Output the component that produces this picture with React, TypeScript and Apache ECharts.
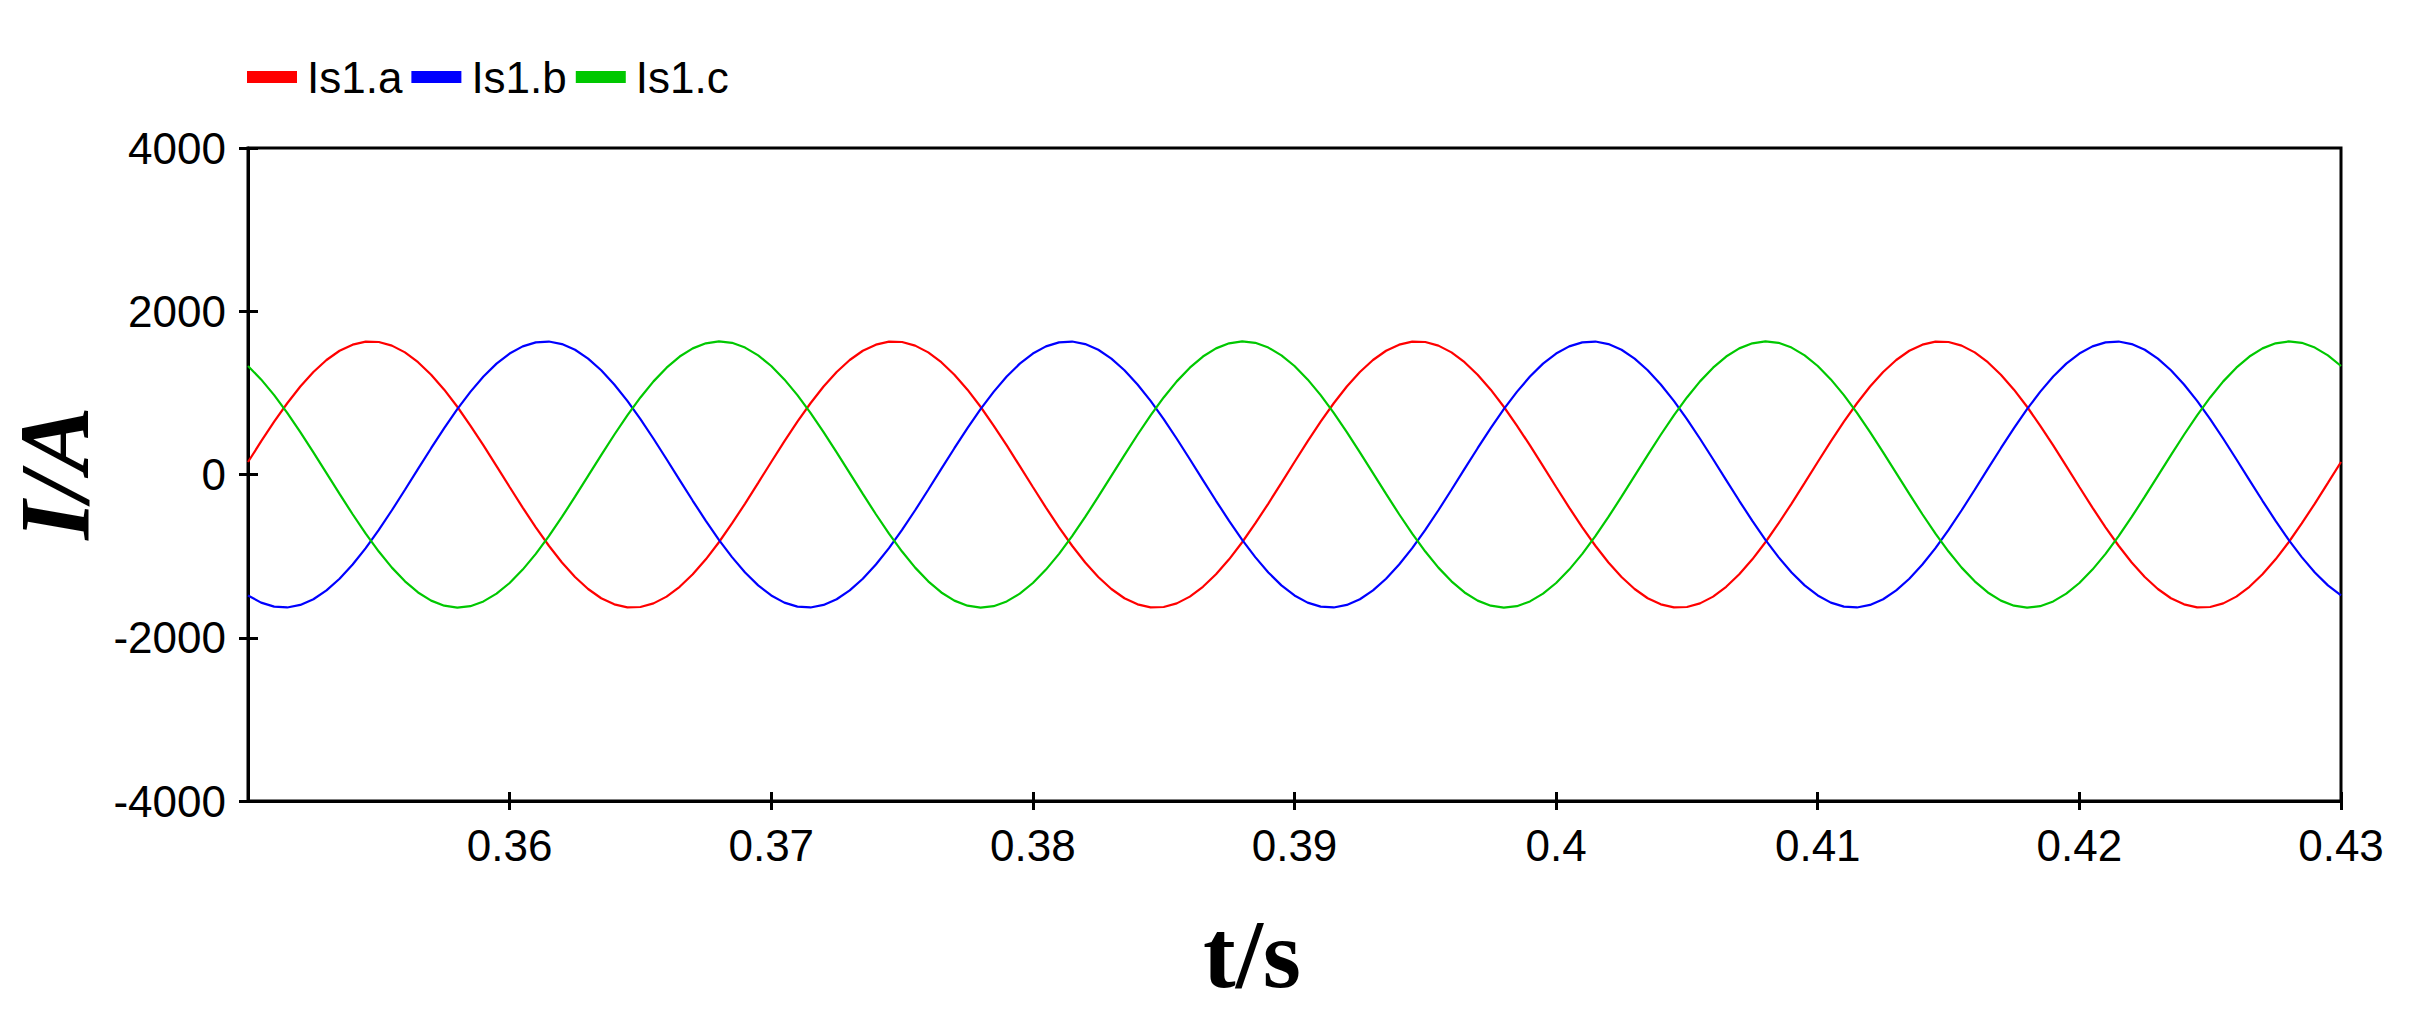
import React, { useEffect, useRef } from "react";
import * as echarts from "echarts";

const times = [
  0.35, 0.3505, 0.351, 0.3515, 0.352, 0.3525, 0.353, 0.3535, 0.354, 0.3545,
  0.355, 0.3555, 0.356, 0.3565, 0.357, 0.3575, 0.358, 0.3585, 0.359, 0.3595,
  0.36, 0.3605, 0.361, 0.3615, 0.362, 0.3625, 0.363, 0.3635, 0.364, 0.3645,
  0.365, 0.3655, 0.366, 0.3665, 0.367, 0.3675, 0.368, 0.3685, 0.369, 0.3695,
  0.37, 0.3705, 0.371, 0.3715, 0.372, 0.3725, 0.373, 0.3735, 0.374, 0.3745,
  0.375, 0.3755, 0.376, 0.3765, 0.377, 0.3775, 0.378, 0.3785, 0.379, 0.3795,
  0.38, 0.3805, 0.381, 0.3815, 0.382, 0.3825, 0.383, 0.3835, 0.384, 0.3845,
  0.385, 0.3855, 0.386, 0.3865, 0.387, 0.3875, 0.388, 0.3885, 0.389, 0.3895,
  0.39, 0.3905, 0.391, 0.3915, 0.392, 0.3925, 0.393, 0.3935, 0.394, 0.3945,
  0.395, 0.3955, 0.396, 0.3965, 0.397, 0.3975, 0.398, 0.3985, 0.399, 0.3995,
  0.4, 0.4005, 0.401, 0.4015, 0.402, 0.4025, 0.403, 0.4035, 0.404, 0.4045,
  0.405, 0.4055, 0.406, 0.4065, 0.407, 0.4075, 0.408, 0.4085, 0.409, 0.4095,
  0.41, 0.4105, 0.411, 0.4115, 0.412, 0.4125, 0.413, 0.4135, 0.414, 0.4145,
  0.415, 0.4155, 0.416, 0.4165, 0.417, 0.4175, 0.418, 0.4185, 0.419, 0.4195,
  0.42, 0.4205, 0.421, 0.4215, 0.422, 0.4225, 0.423, 0.4235, 0.424, 0.4245,
  0.425, 0.4255, 0.426, 0.4265, 0.427, 0.4275, 0.428, 0.4285, 0.429, 0.4295,
  0.43,
];

const ia = [
  153, 405, 647, 873, 1078, 1256, 1403, 1516, 1591, 1627,
  1623, 1579, 1496, 1376, 1223, 1039, 830, 600, 356, 102,
  -153, -405, -647, -873, -1078, -1256, -1403, -1516, -1591, -1627,
  -1623, -1579, -1496, -1376, -1223, -1039, -830, -600, -356, -102,
  153, 405, 647, 873, 1078, 1256, 1403, 1516, 1591, 1627,
  1623, 1579, 1496, 1376, 1223, 1039, 830, 600, 356, 102,
  -153, -405, -647, -873, -1078, -1256, -1403, -1516, -1591, -1627,
  -1623, -1579, -1496, -1376, -1223, -1039, -830, -600, -356, -102,
  153, 405, 647, 873, 1078, 1256, 1403, 1516, 1591, 1627,
  1623, 1579, 1496, 1376, 1223, 1039, 830, 600, 356, 102,
  -153, -405, -647, -873, -1078, -1256, -1403, -1516, -1591, -1627,
  -1623, -1579, -1496, -1376, -1223, -1039, -830, -600, -356, -102,
  153, 405, 647, 873, 1078, 1256, 1403, 1516, 1591, 1627,
  1623, 1579, 1496, 1376, 1223, 1039, 830, 600, 356, 102,
  -153, -405, -647, -873, -1078, -1256, -1403, -1516, -1591, -1627,
  -1623, -1579, -1496, -1376, -1223, -1039, -830, -600, -356, -102,
  153,
];

const ib = [
  -1482, -1570, -1619, -1629, -1598, -1528, -1420, -1277, -1103, -902,
  -679, -438, -187, 68, 322, 568, 800, 1012, 1200, 1358,
  1482, 1570, 1619, 1629, 1598, 1528, 1420, 1277, 1103, 902,
  679, 438, 187, -68, -322, -568, -800, -1012, -1200, -1358,
  -1482, -1570, -1619, -1629, -1598, -1528, -1420, -1277, -1103, -902,
  -679, -438, -187, 68, 322, 568, 800, 1012, 1200, 1358,
  1482, 1570, 1619, 1629, 1598, 1528, 1420, 1277, 1103, 902,
  679, 438, 187, -68, -322, -568, -800, -1012, -1200, -1358,
  -1482, -1570, -1619, -1629, -1598, -1528, -1420, -1277, -1103, -902,
  -679, -438, -187, 68, 322, 568, 800, 1012, 1200, 1358,
  1482, 1570, 1619, 1629, 1598, 1528, 1420, 1277, 1103, 902,
  679, 438, 187, -68, -322, -568, -800, -1012, -1200, -1358,
  -1482, -1570, -1619, -1629, -1598, -1528, -1420, -1277, -1103, -902,
  -679, -438, -187, 68, 322, 568, 800, 1012, 1200, 1358,
  1482, 1570, 1619, 1629, 1598, 1528, 1420, 1277, 1103, 902,
  679, 438, 187, -68, -322, -568, -800, -1012, -1200, -1358,
  -1482,
];

const ic = [
  1329, 1165, 972, 755, 520, 272, 17, -238, -487, -725,
  -944, -1141, -1309, -1445, -1545, -1607, -1630, -1613, -1555, -1460,
  -1329, -1165, -972, -755, -520, -272, -17, 238, 487, 725,
  944, 1141, 1309, 1445, 1545, 1607, 1630, 1613, 1555, 1460,
  1329, 1165, 972, 755, 520, 272, 17, -238, -487, -725,
  -944, -1141, -1309, -1445, -1545, -1607, -1630, -1613, -1555, -1460,
  -1329, -1165, -972, -755, -520, -272, -17, 238, 487, 725,
  944, 1141, 1309, 1445, 1545, 1607, 1630, 1613, 1555, 1460,
  1329, 1165, 972, 755, 520, 272, 17, -238, -487, -725,
  -944, -1141, -1309, -1445, -1545, -1607, -1630, -1613, -1555, -1460,
  -1329, -1165, -972, -755, -520, -272, -17, 238, 487, 725,
  944, 1141, 1309, 1445, 1545, 1607, 1630, 1613, 1555, 1460,
  1329, 1165, 972, 755, 520, 272, 17, -238, -487, -725,
  -944, -1141, -1309, -1445, -1545, -1607, -1630, -1613, -1555, -1460,
  -1329, -1165, -972, -755, -520, -272, -17, 238, 487, 725,
  944, 1141, 1309, 1445, 1545, 1607, 1630, 1613, 1555, 1460,
  1329,
];

const seriesNames = ["Is1.a", "Is1.b", "Is1.c"];
const seriesColors = ["#ff0000", "#0000ff", "#00c800"];
const xTicks = [0.36, 0.37, 0.38, 0.39, 0.4, 0.41, 0.42, 0.43];
const yTicks = [-4000, -2000, 0, 2000, 4000];
const xName = "t/s";
const yName = "I/A";

export default function App() {
  const ref = useRef<HTMLDivElement>(null);

  useEffect(() => {
    if (!ref.current) return;
    const chart = echarts.init(ref.current, null, { renderer: "svg" });
    const labelFont = "'Liberation Sans', Arial, sans-serif";
    const values = [ia, ib, ic];

    const xBase = {
      type: "value",
      min: 0.35,
      max: 0.43,
      interval: 0.01,
      position: "bottom",
      splitLine: { show: false },
    };
    const yBase = {
      type: "value",
      min: -4000,
      max: 4000,
      interval: 2000,
      position: "left",
      splitLine: { show: false },
    };
    const tickStyle = { color: "#000", width: 3 };

    chart.setOption({
      animation: false,
      backgroundColor: "#ffffff",
      grid: {
        left: 248,
        right: 71,
        top: 148,
        bottom: 229,
        show: true,
        borderColor: "#000",
        borderWidth: 3,
        backgroundColor: "transparent",
      },
      legend: {
        left: 247,
        top: 55,
        padding: 0,
        icon: "rect",
        itemWidth: 50,
        itemHeight: 12,
        itemGap: 9,
        data: seriesNames,
        textStyle: {
          fontFamily: labelFont,
          fontSize: 44,
          color: "#000",
          padding: [0, 0, 0, 5],
        },
      },
      xAxis: [
        {
          ...xBase,
          axisLine: { show: true, onZero: false, lineStyle: { color: "#000", width: 3 } },
          axisTick: {
            show: true,
            inside: false,
            length: 9,
            lineStyle: tickStyle,
            customValues: xTicks,
          },
          axisLabel: {
            show: true,
            margin: 22,
            color: "#000",
            fontFamily: labelFont,
            fontSize: 44,
            customValues: xTicks,
            formatter: (v: number) => String(v),
          },
        },
        {
          ...xBase,
          axisLine: { show: false, onZero: false },
          axisTick: {
            show: true,
            inside: true,
            length: 9,
            lineStyle: tickStyle,
            customValues: xTicks,
          },
          axisLabel: { show: false },
        },
      ],
      yAxis: [
        {
          ...yBase,
          axisLine: { show: true, onZero: false, lineStyle: { color: "#000", width: 3 } },
          axisTick: {
            show: true,
            inside: false,
            length: 9,
            lineStyle: tickStyle,
            customValues: yTicks,
          },
          axisLabel: {
            show: true,
            margin: 22,
            color: "#000",
            fontFamily: labelFont,
            fontSize: 44,
            customValues: yTicks,
            formatter: (v: number) => String(v),
          },
        },
        {
          ...yBase,
          axisLine: { show: false, onZero: false },
          axisTick: {
            show: true,
            inside: true,
            length: 10,
            lineStyle: tickStyle,
            customValues: yTicks,
          },
          axisLabel: { show: false },
        },
      ],
      graphic: [
        {
          type: "text",
          x: 54,
          y: 473,
          rotation: Math.PI / 2,
          style: {
            text: yName,
            fill: "#000",
            font: "italic bold 100px 'Liberation Serif', 'Times New Roman', serif",
            lineHeight: 80,
            align: "center",
            verticalAlign: "middle",
          },
        },
        {
          type: "text",
          x: 1252,
          y: 954,
          style: {
            text: xName,
            fill: "#000",
            font: "bold 98px 'Liberation Serif', 'Times New Roman', serif",
            align: "center",
            verticalAlign: "middle",
          },
        },
      ],
      series: seriesNames.map((name, i) => ({
        name,
        type: "line",
        xAxisIndex: 0,
        yAxisIndex: 0,
        data: times.map((t, k) => [t, values[i][k]]),
        showSymbol: false,
        symbol: "none",
        smooth: false,
        color: seriesColors[i],
        lineStyle: { color: seriesColors[i], width: 2.2 },
        itemStyle: { color: seriesColors[i] },
        z: 3 + i,
      })),
    });

    return () => {
      chart.dispose();
    };
  }, []);

  return (
    <div
      ref={ref}
      style={{
        position: "fixed",
        left: 0,
        top: 0,
        width: 2412,
        height: 1030,
        background: "#fff",
      }}
    />
  );
}
